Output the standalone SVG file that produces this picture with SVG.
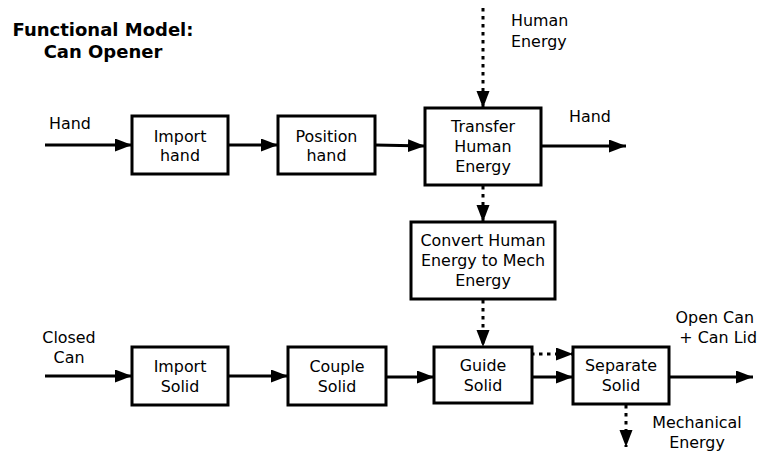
<svg xmlns="http://www.w3.org/2000/svg" width="761" height="452" viewBox="0 0 761 452">
<style>
.box{fill:#fff;stroke:#000;stroke-width:3}
.t{font-family:"DejaVu Sans","Verdana",sans-serif;font-size:15.9px;fill:#000}
.c{text-anchor:middle}
.e{text-anchor:end}
.title{font-family:"DejaVu Sans","Verdana",sans-serif;font-size:18px;font-weight:bold;text-anchor:middle;fill:#000}
.ln{stroke:#000;stroke-width:3;fill:none;marker-end:url(#ah)}
.dl{stroke:#000;stroke-width:3;fill:none;stroke-dasharray:3.5 4.5;marker-end:url(#ah)}
</style>
<defs>
<marker id="ah" markerUnits="userSpaceOnUse" markerWidth="18" markerHeight="14" refX="17" refY="6.5" orient="auto">
<path d="M0,0 L17,6.5 L0,13 Z" fill="#000"/>
</marker>
</defs>
<rect width="761" height="452" fill="#fff"/>
<g id="title">
<text class="title" x="103" y="36">Functional Model:</text>
<text class="title" x="103" y="57.5">Can Opener</text>
</g>
<g id="connectors">
<line class="ln" x1="45" y1="145" x2="132" y2="145"/>
<line class="ln" x1="228" y1="145" x2="278" y2="145"/>
<line class="ln" x1="375" y1="145" x2="425" y2="146"/>
<line class="ln" x1="541" y1="146" x2="626" y2="146"/>
<line class="dl" x1="483" y1="8" x2="483" y2="108"/>
<line class="dl" x1="483" y1="186" x2="483" y2="222"/>
<line class="dl" x1="483" y1="300" x2="483" y2="347"/>
<line class="ln" x1="45" y1="376" x2="132" y2="376"/>
<line class="ln" x1="228" y1="376" x2="288" y2="376"/>
<line class="ln" x1="386" y1="377" x2="434" y2="377"/>
<line class="ln" x1="532" y1="377" x2="573" y2="377"/>
<line class="dl" x1="523" y1="354" x2="573" y2="354"/>
<line class="ln" x1="669" y1="377" x2="753" y2="377"/>
<line class="dl" x1="626" y1="405" x2="626" y2="447"/>
</g>
<g id="labels">
<text class="t" x="49" y="129">Hand</text>
<text class="t" x="511" y="26">Human</text>
<text class="t" x="511" y="47">Energy</text>
<text class="t" x="569" y="122">Hand</text>
<text class="t c" x="69" y="343">Closed</text>
<text class="t c" x="69" y="363">Can</text>
<text class="t e" x="754" y="323">Open Can</text>
<text class="t e" x="757" y="343">+ Can Lid</text>
<text class="t c" x="697" y="428">Mechanical</text>
<text class="t c" x="697" y="448">Energy</text>
</g>
<g id="import-hand">
<rect class="box" x="132" y="116" width="96" height="58"/>
<text class="t c" x="180" y="141.7">Import</text>
<text class="t c" x="180" y="161.3">hand</text>
</g>
<g id="position-hand">
<rect class="box" x="278" y="116" width="97" height="58"/>
<text class="t c" x="326.5" y="141.7">Position</text>
<text class="t c" x="326.5" y="161.3">hand</text>
</g>
<g id="transfer-human-energy">
<rect class="box" x="425" y="108" width="116" height="77"/>
<text class="t c" x="483" y="131.7">Transfer</text>
<text class="t c" x="483" y="151.7">Human</text>
<text class="t c" x="483" y="171.7">Energy</text>
</g>
<g id="convert">
<rect class="box" x="411" y="222" width="144" height="77"/>
<text class="t c" x="483" y="245.7">Convert Human</text>
<text class="t c" x="483" y="265.7">Energy to Mech</text>
<text class="t c" x="483" y="285.7">Energy</text>
</g>
<g id="import-solid">
<rect class="box" x="132" y="347" width="96" height="58"/>
<text class="t c" x="180" y="371.7">Import</text>
<text class="t c" x="180" y="391.7">Solid</text>
</g>
<g id="couple-solid">
<rect class="box" x="288" y="347" width="98" height="58"/>
<text class="t c" x="337" y="371.7">Couple</text>
<text class="t c" x="337" y="391.7">Solid</text>
</g>
<g id="guide-solid">
<rect class="box" x="434" y="347" width="98" height="56"/>
<text class="t c" x="483" y="370.7">Guide</text>
<text class="t c" x="483" y="390.7">Solid</text>
</g>
<g id="separate-solid">
<rect class="box" x="573" y="347" width="96" height="57"/>
<text class="t c" x="621" y="370.7">Separate</text>
<text class="t c" x="621" y="390.7">Solid</text>
</g>
</svg>
